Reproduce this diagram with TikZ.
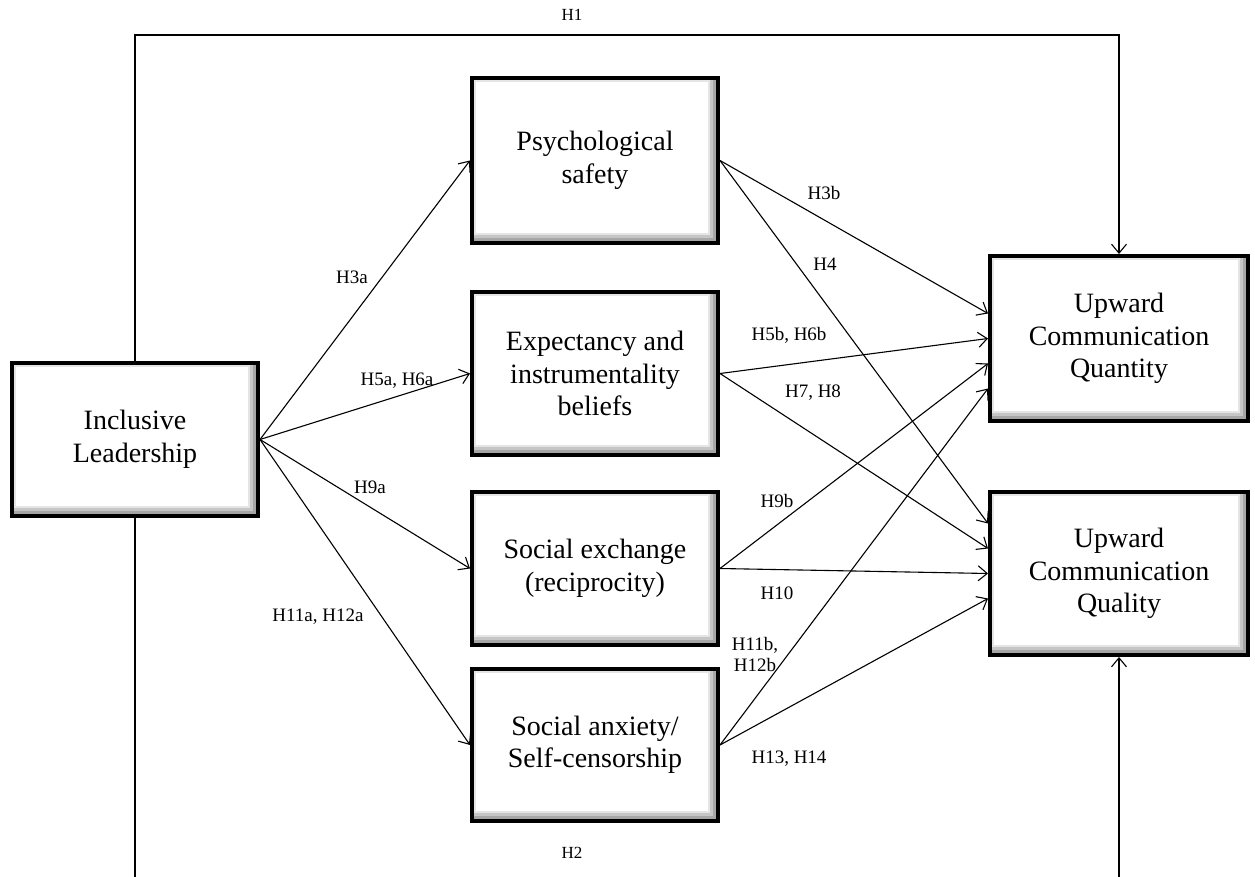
\documentclass[tikz,border=0pt]{standalone}
\usepackage{fontspec}
\setmainfont{Liberation Serif}
\usetikzlibrary{arrows.meta,calc}
\begin{document}
\begin{tikzpicture}[x=1pt,y=-1pt,
  box/.style={draw=black, line width=4pt, fill=white, align=center, inner sep=0pt,
    font=\fontsize{28}{32.5}\selectfont, minimum width=246pt,
    path picture={
      \fill[gray!70] (path picture bounding box.south west) rectangle (path picture bounding box.north east);
      \fill[gray!45] ([xshift=2pt,yshift=5pt]path picture bounding box.south west) rectangle ([xshift=-5pt,yshift=-2pt]path picture bounding box.north east);
      \fill[gray!20] ([xshift=2pt,yshift=8pt]path picture bounding box.south west) rectangle ([xshift=-8pt,yshift=-2pt]path picture bounding box.north east);
      \fill[white] ([xshift=4pt,yshift=10pt]path picture bounding box.south west) rectangle ([xshift=-10pt,yshift=-4pt]path picture bounding box.north east);
    }},
  lab/.style={font=\fontsize{19}{21}\selectfont, inner sep=1pt, align=center},
  hlab/.style={font=\fontsize{17}{19}\selectfont, inner sep=1pt},
  conn/.style={line width=1.1pt, -{Straight Barb[length=9pt,width=15pt,line width=1.1pt]}},
  plain/.style={line width=1.1pt}
]
\useasboundingbox (0,0) rectangle (1255,877);
\clip (0,0) rectangle (1255,877);

\coordinate (top) at (0,35);
\coordinate (bot) at (0,890);

% boxes
\node[box, minimum height=153pt] (IL) at (135,439.5) {Inclusive\\Leadership};
\node[box, minimum height=165pt] (PS) at (595,160.5) {Psychological\\safety};
\node[box, minimum height=163pt] (EX) at (595,373.5) {Expectancy and\\instrumentality\\beliefs};
\node[box, minimum height=153pt] (SE) at (595,568.5) {Social exchange\\(reciprocity)};
\node[box, minimum height=152pt] (SA) at (595,745) {Social anxiety/\\Self-censorship};
\node[box, minimum width=258pt, minimum height=165pt] (QN) at (1119,338.5) {Upward\\Communication\\Quantity};
\node[box, minimum width=258pt, minimum height=163pt] (QL) at (1119,573.5) {Upward\\Communication\\Quality};

% outer paths
\draw[conn] (IL.north) -- (IL.north |- top) -- (QN.north |- top) -- (QN.north);
\draw[plain] (IL.south) -- (IL.south |- bot);
\draw[conn] (QL.south |- bot) -- (QL.south);

% from Inclusive Leadership
\draw[conn] (IL.east) -- (PS.west);
\draw[conn] (IL.east) -- (EX.west);
\draw[conn] (IL.east) -- (SE.west);
\draw[conn] (IL.east) -- (SA.west);

% to outcomes
\draw[conn] (PS.east) -- ($(QN.west)+(0,-25)$);
\draw[conn] (PS.east) -- ($(QL.west)+(0,-50)$);
\draw[conn] (EX.east) -- (QN.west);
\draw[conn] (EX.east) -- ($(QL.west)+(0,-25)$);
\draw[conn] (SE.east) -- ($(QN.west)+(0,25)$);
\draw[conn] (SE.east) -- (QL.west);
\draw[conn] (SA.east) -- ($(QN.west)+(0,50)$);
\draw[conn] (SA.east) -- ($(QL.west)+(0,25)$);

% labels
\node[hlab] (lH1) at (572,15) {H1};
\node[hlab] (lH2) at (572,853) {H2};
\node[lab] (lH3a) at (352,277) {H3a};
\node[lab] (lH5a) at (397,381) {H5a, H6a};
\node[lab] (lH9a) at (370,487) {H9a};
\node[lab] (lH11a) at (318,617) {H11a, H12a};
\node[lab] (lH3b) at (824,193) {H3b};
\node[lab] (lH4) at (825,264) {H4};
\node[lab] (lH5b) at (789,335) {H5b, H6b};
\node[lab] (lH7) at (813,393) {H7, H8};
\node[lab] (lH9b) at (777,501) {H9b};
\node[lab] (lH10) at (777,593) {H10};
\node[lab] (lH11b) at (755,654) {H11b,\\H12b};
\node[lab] (lH13) at (789,759) {H13, H14};
\end{tikzpicture}
\end{document}
